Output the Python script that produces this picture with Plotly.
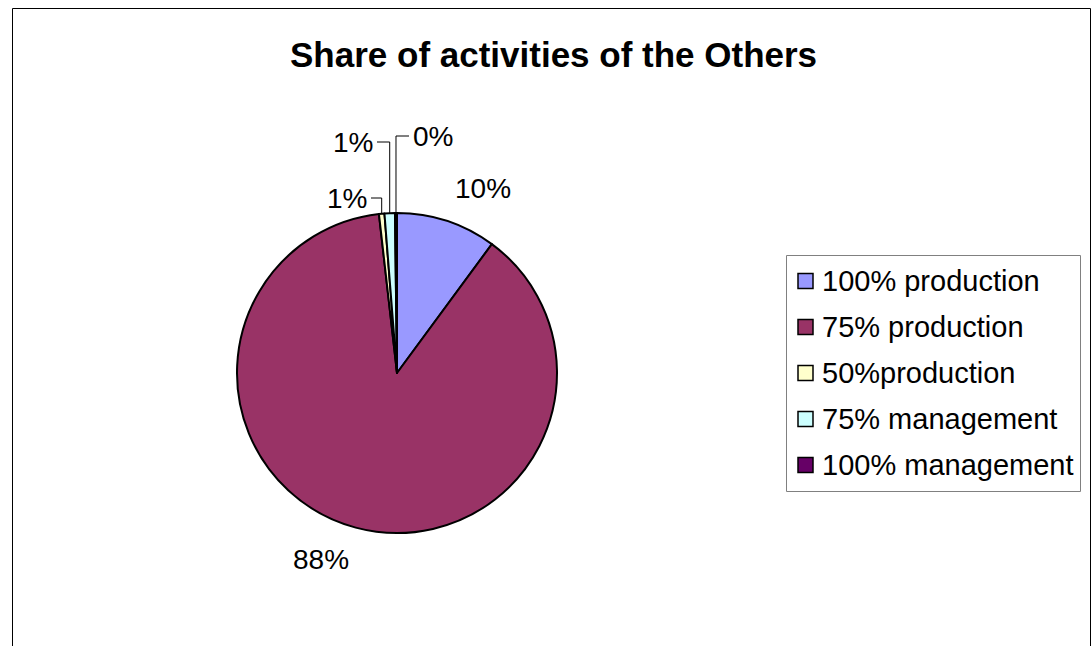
import math
import plotly.graph_objects as go

# Share of activities (percent) for the "Others" group
categories = ["100% production", "75% production", "50%production",
              "75% management", "100% management"]
shares = [10.1, 88.1, 0.55, 1.05, 0.2]
colors = ["#9999FF", "#993366", "#FFFFCC", "#CCFFFF", "#660066"]

W, H = 1091, 646
FONT = "Liberation Sans, Arial, sans-serif"

# pie geometry in page pixels
CX, CY, R = 397, 373, 160


def px(x):
    return x / W


def py(y):
    return 1 - y / H


fig = go.Figure(
    go.Pie(
        labels=categories,
        values=shares,
        sort=False,
        direction="clockwise",
        rotation=0,
        marker=dict(colors=colors, line=dict(color="#000000", width=2)),
        textinfo="none",
        showlegend=False,
        domain=dict(x=[px(CX - R), px(CX + R)], y=[py(CY + R), py(CY - R)]),
        hoverinfo="label+percent",
    )
)

shapes = [
    # outer chart frame (bottom edge runs past the page)
    dict(type="rect", xref="paper", yref="paper",
         x0=px(12.5), x1=px(1090.5), y0=-0.05, y1=py(8.5),
         line=dict(color="#000000", width=1), fillcolor="rgba(0,0,0,0)"),
    # legend box
    dict(type="rect", xref="paper", yref="paper",
         x0=px(786.5), x1=px(1080.5), y0=py(491.5), y1=py(255.5),
         line=dict(color="#808080", width=1), fillcolor="#FFFFFF"),
]
annotations = [
    dict(text="<b>Share of activities of the Others</b>", xref="paper", yref="paper",
         x=px(553), y=py(55), xanchor="center", yanchor="middle", showarrow=False,
         font=dict(family=FONT, size=35, color="#000000")),
]

# percentage labels, placed from each slice's mid angle
total = sum(shares)
label_font = dict(family=FONT, size=28, color="#000000")
# small slices near 12 o'clock get lifted labels with elbow leader lines:
# (label row y, label edge x, side of the leader)
lifted = {2: (198, 369, "left"), 3: (142, 375, "left"), 4: (136, 411, "right")}
cum = 0.0
for i, v in enumerate(shares):
    mid = (cum + v / 2) / total * 2 * math.pi
    cum += v
    text = f"{v / total * 100:.0f}%"
    sx, sy = math.sin(mid), -math.cos(mid)
    if i in lifted:
        ly, lx, side = lifted[i]
        ex, ey = CX + R * sx, CY + R * sy
        start = lx + 2 if side == "left" else lx - 2
        shapes.append(dict(type="path", xref="paper", yref="paper",
                           path=f"M {px(start)} {py(ly)} L {px(ex)} {py(ly)} L {px(ex)} {py(ey)}",
                           line=dict(color="#000000", width=1)))
        annotations.append(dict(text=text, xref="paper", yref="paper",
                                x=px(lx), y=py(ly),
                                xanchor="right" if side == "left" else "left",
                                yanchor="middle", showarrow=False, font=label_font))
    else:
        rl = R + 19
        ax, ay = CX + rl * sx, CY + rl * sy
        annotations.append(dict(text=text, xref="paper", yref="paper",
                                x=px(ax), y=py(ay + (-14 if sy < 0 else 14)),
                                xanchor="left" if sx >= 0 else "right",
                                yanchor="middle", showarrow=False, font=label_font))

# legend entries: swatch + label
row0, step = 281, 46
for i, (name, col) in enumerate(zip(categories, colors)):
    yc = row0 + i * step
    shapes.append(dict(type="rect", xref="paper", yref="paper",
                       x0=px(798), x1=px(813), y0=py(yc + 7.5), y1=py(yc - 7.5),
                       line=dict(color="#000000", width=1.5), fillcolor=col))
    annotations.append(dict(text=name, xref="paper", yref="paper",
                            x=px(820), y=py(yc), xanchor="left", yanchor="middle",
                            showarrow=False,
                            font=dict(family=FONT, size=29, color="#000000")))

fig.update_layout(
    width=W, height=H,
    margin=dict(l=0, r=0, t=0, b=0),
    paper_bgcolor="#FFFFFF",
    plot_bgcolor="#FFFFFF",
    shapes=shapes,
    annotations=annotations,
)

fig.write_html("out.html")
